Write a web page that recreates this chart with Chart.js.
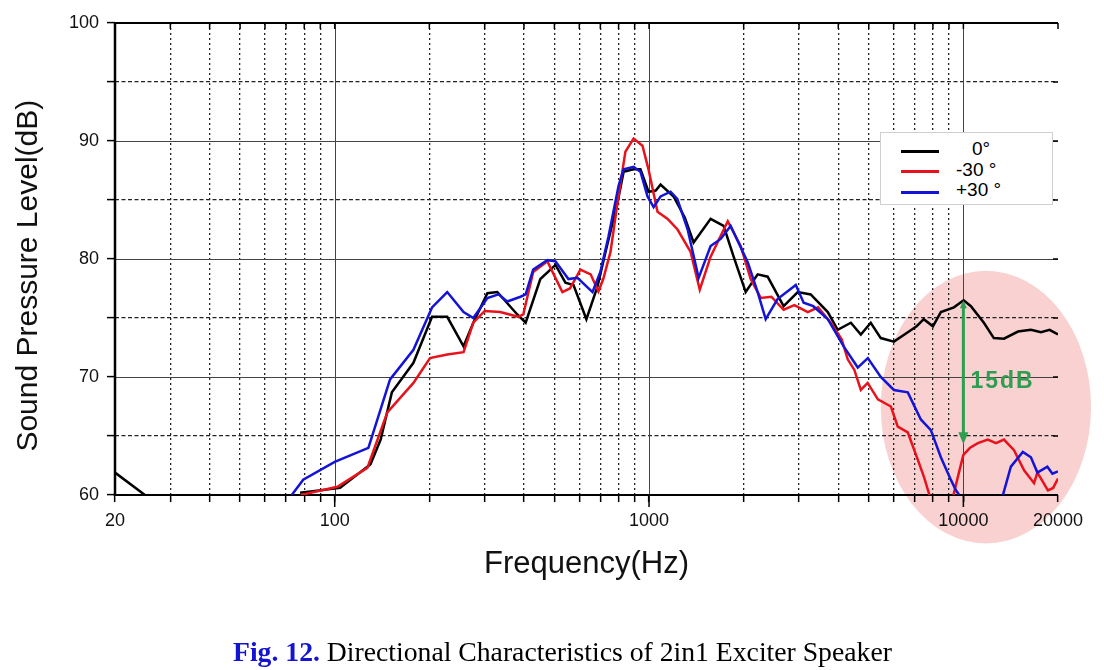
<!DOCTYPE html>
<html><head><meta charset="utf-8">
<script src="https://cdn.jsdelivr.net/npm/chart.js@4.4.1/dist/chart.umd.min.js"></script>
<style>
html,body{margin:0;padding:0;background:#fff;}
#wrap{position:relative;width:1104px;height:670px;overflow:hidden;}
#c{position:absolute;left:0;top:0;}
#legend{position:absolute;left:880px;top:132px;width:171px;height:71px;border:1px solid #cfcfcf;background:#fff;font-family:"Liberation Sans",Arial,sans-serif;font-size:19px;color:#000;}
.sw{position:absolute;left:20px;width:38px;height:3px;}
.lab{position:absolute;white-space:pre;line-height:20px;height:20px;}
#caption{position:absolute;left:233px;top:636px;white-space:nowrap;font-family:"Liberation Serif","Times New Roman",serif;font-size:27.7px;line-height:32px;color:#000;}
#caption b{color:#1414d2;}
</style></head>
<body>
<div id="wrap">
<canvas id="c" width="1104" height="670"></canvas>
<div id="legend"></div>
<div id="caption"><b>Fig. 12.</b> Directional Characteristics of 2in1 Exciter Speaker</div>
</div>
<script>
// ---- data (frequency in Hz, sound pressure level in dB) ----
const seriesLabels = ['0°', '-30 °', '+30 °'];

const freq0 = [20, 24.9, 26, 77.6, 104, 130, 140, 152, 178, 204, 228, 257, 276, 306, 329, 381, 405, 451, 504, 542, 575, 632, 686, 727, 794, 830, 893, 939, 996, 1050, 1088, 1197, 1300, 1386, 1570, 1727, 1858, 2030, 2216, 2384, 2680, 2972, 3268, 3704, 3982, 4386, 4718, 5074, 5460, 6012, 6656, 7100, 7482, 8000, 8480, 9332, 10020, 10566, 11620, 12500, 13460, 14920, 16400, 17660, 18800, 20000];
const spl0  = [61.9, 60, null, 60.2, 60.6, 62.6, 64.7, 68.7, 71.2, 75.1, 75.1, 72.6, 74.6, 77.1, 77.2, 75.3, 74.6, 78.3, 79.5, 78.0, 77.8, 74.9, 77.7, 80.6, 84.8, 87.4, 87.6, 87.6, 85.7, 85.8, 86.3, 85.3, 83.5, 81.4, 83.4, 82.8, 80.2, 77.2, 78.7, 78.5, 76.0, 77.2, 77.0, 75.5, 74.0, 74.6, 73.6, 74.6, 73.3, 73.0, 73.8, 74.3, 74.9, 74.3, 75.5, 75.9, 76.5, 76.0, 74.6, 73.3, 73.25, 73.85, 74.0, 73.8, 74.0, 73.6];

const freqM30 = [78, 102, 127, 147, 178, 201, 228, 257, 276, 300, 336, 384, 398, 428, 475, 530, 560, 605, 652, 690, 715, 754, 794, 841, 893, 953, 996, 1064, 1146, 1232, 1356, 1450, 1570, 1780, 1957, 2106, 2266, 2450, 2680, 2900, 3200, 3450, 3786, 4100, 4286, 4500, 4718, 4960, 5346, 5880, 6184, 6656, 7160, 7500, 7800, 7900, 9300, 9700, 10000, 10500, 11120, 11960, 12700, 13460, 14490, 15600, 16780, 17200, 18580, 19300, 20000];
const splM30  = [60, 60.7, 62.3, 67.0, 69.5, 71.6, 71.9, 72.1, 74.6, 75.6, 75.5, 75.1, 75.3, 78.9, 79.8, 77.2, 77.5, 79.1, 78.7, 77.25, 78.3, 80.6, 84.8, 89.1, 90.2, 89.6, 87.6, 84.0, 83.4, 82.5, 80.6, 77.4, 80.2, 83.2, 81.1, 78.3, 76.7, 76.8, 75.7, 76.1, 75.5, 75.9, 74.6, 73.2, 71.5, 70.6, 68.9, 69.5, 68.1, 67.5, 65.8, 65.3, 63.0, 61.5, 60, null, 60, 62.0, 63.4, 64.0, 64.4, 64.7, 64.4, 64.7, 63.8, 62.1, 61.0, 61.9, 60.4, 60.6, 61.4];

const freqP30 = [73, 79.4, 100, 128, 150, 178, 204, 228, 257, 276, 306, 332, 354, 390, 405, 428, 475, 504, 554, 592, 661, 700, 743, 800, 830, 893, 939, 989, 1034, 1088, 1171, 1230, 1327, 1438, 1570, 1690, 1818, 2062, 2216, 2350, 2563, 2930, 3104, 3330, 3704, 4160, 4614, 4966, 5460, 6012, 6656, 7322, 7880, 8480, 9120, 9470, 9700, 9800, 13360, 14160, 15460, 16400, 17200, 18500, 19200, 20000];
const splP30  = [60, 61.3, 62.8, 64.0, 69.8, 72.3, 75.9, 77.2, 75.5, 75.0, 76.7, 77.0, 76.4, 76.8, 77.0, 79.1, 79.9, 79.8, 78.3, 78.4, 77.2, 78.9, 81.9, 86.2, 87.6, 87.8, 87.4, 85.3, 84.4, 85.3, 85.7, 85.1, 82.5, 78.4, 81.1, 81.7, 82.8, 79.7, 77.2, 74.9, 76.6, 77.8, 76.3, 76.0, 74.9, 72.6, 70.8, 71.6, 70.0, 68.9, 68.7, 66.4, 65.5, 63.2, 61.3, 60.4, 60, null, 60, 62.4, 63.65, 63.2, 61.9, 62.4, 61.8, 62.0];

// axis ticks
const xGridValues = [20,30,40,50,60,70,80,90,100,200,300,400,500,600,700,800,900,1000,2000,3000,4000,5000,6000,7000,8000,9000,10000,20000];
const xLabelValues = [20, 100, 1000, 10000, 20000];
const xDecades = [100, 1000, 10000];
const yLabelValues = [60, 70, 80, 90, 100];
const yMajorGrid = [70, 80, 90];

// annotation (arrow + text + highlighted ellipse)
const arrowFreq = 10000, arrowDbTop = 76.5, arrowDbBottom = 64.3;
const noteText = '15dB', noteFreq = 10530, noteDb = 69.6;
const ellipseFreq = [5460, 25470], ellipseDb = [55.9, 79.0];

const FONT = '"Liberation Sans", Arial, sans-serif';
const pts = (f, s) => f.map((x, i) => ({x: x, y: s[i]}));

const overlay = {
  id: 'overlay',
  beforeDraw(chart) {
    const {ctx, scales: {x, y}} = chart;
    const x1 = x.getPixelForValue(ellipseFreq[0]), x2 = x.getPixelForValue(ellipseFreq[1]);
    const y1 = y.getPixelForValue(ellipseDb[0]), y2 = y.getPixelForValue(ellipseDb[1]);
    ctx.save();
    ctx.fillStyle = '#f9d1d1';
    ctx.beginPath();
    ctx.ellipse((x1 + x2) / 2, (y1 + y2) / 2, Math.abs(x2 - x1) / 2, Math.abs(y1 - y2) / 2, 0, 0, Math.PI * 2);
    ctx.fill();
    ctx.restore();
  },
  beforeDatasetsDraw(chart) {
    const {ctx, chartArea: a, scales: {x, y}} = chart;
    ctx.save();
    ctx.strokeStyle = '#444'; ctx.lineWidth = 1;
    ctx.beginPath();
    xDecades.forEach(v => { const p = Math.round(x.getPixelForValue(v)) + 0.5; ctx.moveTo(p, a.top); ctx.lineTo(p, a.bottom); });
    yMajorGrid.forEach(v => { const p = Math.round(y.getPixelForValue(v)) + 0.5; ctx.moveTo(a.left, p); ctx.lineTo(a.right, p); });
    ctx.stroke();
    // frame
    ctx.strokeStyle = '#000';
    ctx.lineWidth = 2;
    ctx.beginPath();
    ctx.moveTo(a.left - 1, a.top); ctx.lineTo(a.right, a.top);
    ctx.moveTo(a.left - 1, a.bottom); ctx.lineTo(a.right, a.bottom);
    ctx.stroke();
    ctx.lineWidth = 2.5;
    ctx.beginPath(); ctx.moveTo(a.left, a.top - 1); ctx.lineTo(a.left, a.bottom + 1); ctx.stroke();
    // inner ticks on top and right, longer decade ticks at bottom
    ctx.lineWidth = 1.5;
    ctx.beginPath();
    xGridValues.forEach(v => { const p = x.getPixelForValue(v); ctx.moveTo(p, a.top); ctx.lineTo(p, a.top + 6); });
    xDecades.forEach(v => { const p = x.getPixelForValue(v); ctx.moveTo(p, a.bottom); ctx.lineTo(p, a.bottom + 12); });
    for (let v = 65; v < 100; v += 5) { const p = y.getPixelForValue(v); ctx.moveTo(a.right - 5, p); ctx.lineTo(a.right, p); }
    ctx.stroke();
    ctx.restore();
  },
  afterDatasetsDraw(chart) {
    const {ctx, scales: {x, y}} = chart;
    const px = x.getPixelForValue(arrowFreq);
    const pt = y.getPixelForValue(arrowDbTop), pb = y.getPixelForValue(arrowDbBottom);
    ctx.save();
    ctx.strokeStyle = '#2f9e50'; ctx.fillStyle = '#2f9e50'; ctx.lineWidth = 3;
    ctx.beginPath(); ctx.moveTo(px, pt + 4); ctx.lineTo(px, pb - 8); ctx.stroke();
    ctx.beginPath(); ctx.moveTo(px, pb); ctx.lineTo(px - 5, pb - 12); ctx.lineTo(px + 5, pb - 12); ctx.closePath(); ctx.fill();
    ctx.beginPath(); ctx.moveTo(px, pt); ctx.lineTo(px - 3.5, pt + 8); ctx.lineTo(px + 3.5, pt + 8); ctx.closePath(); ctx.fill();
    ctx.font = 'bold 23px ' + FONT;
    if ('letterSpacing' in ctx) ctx.letterSpacing = '2px';
    ctx.textAlign = 'left'; ctx.textBaseline = 'middle';
    ctx.fillText(noteText, x.getPixelForValue(noteFreq), y.getPixelForValue(noteDb));
    ctx.restore();
  }
};

const colors = ['#000000', '#e8121c', '#1414d6'];
const chart = new Chart(document.getElementById('c'), {
  type: 'scatter',
  data: {
    datasets: [
      {label: seriesLabels[0], data: pts(freq0, spl0)},
      {label: seriesLabels[1], data: pts(freqM30, splM30)},
      {label: seriesLabels[2], data: pts(freqP30, splP30)}
    ].map((d, i) => Object.assign(d, {showLine: true, spanGaps: false, borderColor: colors[i], backgroundColor: colors[i], borderWidth: 2.5, pointRadius: 0, tension: 0, order: 3 - i}))
  },
  options: {
    responsive: false, animation: false,
    layout: {padding: {top: 23, right: 46, left: 0, bottom: 0}},
    plugins: {legend: {display: false}, tooltip: {enabled: false}},
    scales: {
      x: {
        type: 'logarithmic', min: 20, max: 20000,
        afterFit(s) { s.height = 175; },
        afterBuildTicks(s) { s.ticks = xGridValues.map(v => ({value: v})); },
        ticks: {autoSkip: false, maxRotation: 0, padding: 8, color: '#111', font: {family: FONT, size: 18},
          callback: v => xLabelValues.includes(v) ? String(v) : ''},
        grid: {color: c => (c.tick && !xDecades.includes(c.tick.value) && c.tick.value !== 20 && c.tick.value !== 20000) ? '#222' : 'rgba(0,0,0,0)',
          lineWidth: 1.3, tickColor: '#000', tickWidth: 1.5, tickLength: 7},
        border: {display: false, dash: [2, 3]},
        title: {display: true, text: 'Frequency(Hz)', color: '#111', font: {family: FONT, size: 31}, padding: {top: 0, bottom: 87}}
      },
      y: {
        min: 60, max: 100,
        afterFit(s) { s.width = 115; },
        ticks: {stepSize: 5, autoSkip: false, padding: 8, color: '#111', font: {family: FONT, size: 18},
          callback: v => yLabelValues.includes(v) ? String(v) : ''},
        grid: {color: c => (c.tick && c.tick.value % 10 === 5) ? '#222' : 'rgba(0,0,0,0)',
          lineWidth: 1.2, tickColor: '#000', tickWidth: 1.5, tickLength: 8},
        border: {display: false, dash: [4, 2.5]},
        title: {display: true, text: 'Sound Pressure Level(dB)    ', color: '#111', font: {family: FONT, size: 30}, padding: {top: 11, bottom: 0}}
      }
    }
  },
  plugins: [overlay]
});

// legend built from dataset labels
const lg = document.getElementById('legend');
const rowTop = [18, 38.5, 59];
const labLeft = [91, 75, 75];
chart.data.datasets.forEach((d, i) => {
  const sw = document.createElement('div');
  sw.className = 'sw'; sw.style.background = d.borderColor; sw.style.top = (rowTop[i] - 1.5) + 'px';
  lg.appendChild(sw);
  const t = document.createElement('div');
  t.className = 'lab'; t.textContent = d.label; t.style.left = labLeft[i] + 'px'; t.style.top = (rowTop[i] - 12) + 'px';
  lg.appendChild(t);
});
</script>
</body></html>
